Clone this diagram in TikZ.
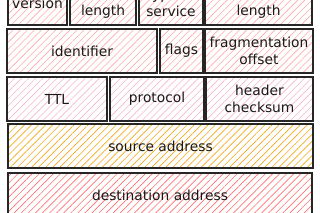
\documentclass[tikz,border=0pt]{standalone}
\usepackage{fontspec}
\setmainfont{DejaVu Sans}
\usetikzlibrary{patterns.meta}
\definecolor{pinkA}{HTML}{FFA8A8}
\definecolor{pinkB}{HTML}{F7B5CA}
\definecolor{redC}{HTML}{FF7070}
\definecolor{yelD}{HTML}{F2A818}
\tikzset{
  field/.style={draw=black!85, line width=1.1pt, inner sep=0pt, align=center,
    font=\fontsize{13.8}{17}\selectfont, text=black!90},
  hatchA/.style={pattern={Lines[angle=45,distance=5pt,line width=0.6pt]}, pattern color=pinkA},
  hatchB/.style={pattern={Lines[angle=45,distance=5pt,line width=0.6pt]}, pattern color=pinkB},
  hatchC/.style={pattern={Lines[angle=45,distance=5pt,line width=0.65pt]}, pattern color=redC},
  hatchD/.style={pattern={Lines[angle=45,distance=5pt,line width=0.65pt]}, pattern color=yelD},
}
\begin{document}
\begin{tikzpicture}[x=1pt,y=-1pt]
\useasboundingbox (0,0) rectangle (320,213);
\clip (0,0) rectangle (320,213);
% row 1
\node[field,hatchA,minimum width=59pt,minimum height=44pt] (ver) at (37.5,3) {version};
\node[field,hatchA,minimum width=66pt,minimum height=44pt] (ihl) at (103,3) {header\\length};
\node[field,hatchA,minimum width=64pt,minimum height=44pt] (tos) at (171,3) {type of\\service};
\node[field,hatchA,minimum width=107pt,minimum height=44pt] (tot) at (258.5,3) {total\\length};
% row 2
\node[field,hatchA,minimum width=150pt,minimum height=44pt] (id) at (82,51) {identifier};
\node[field,hatchA,minimum width=43pt,minimum height=44pt] (flags) at (181.5,51) {flags};
\node[field,hatchA,minimum width=108pt,minimum height=44pt] (frag) at (259,51) {fragmentation\\offset};
% row 3
\node[field,hatchB,minimum width=100pt,minimum height=44pt] (ttl) at (57,99) {TTL};
\node[field,hatchB,minimum width=94pt,minimum height=44pt] (proto) at (157,99) {protocol};
\node[field,hatchB,minimum width=107pt,minimum height=44pt] (chk) at (259.5,99) {header\\checksum};
% row 4
\node[field,hatchD,minimum width=305pt,minimum height=44pt] (src) at (160.5,146) {source address};
% row 5
\node[field,hatchC,minimum width=304pt,minimum height=44pt] (dst) at (160,195) {destination address};
\end{tikzpicture}
\end{document}
